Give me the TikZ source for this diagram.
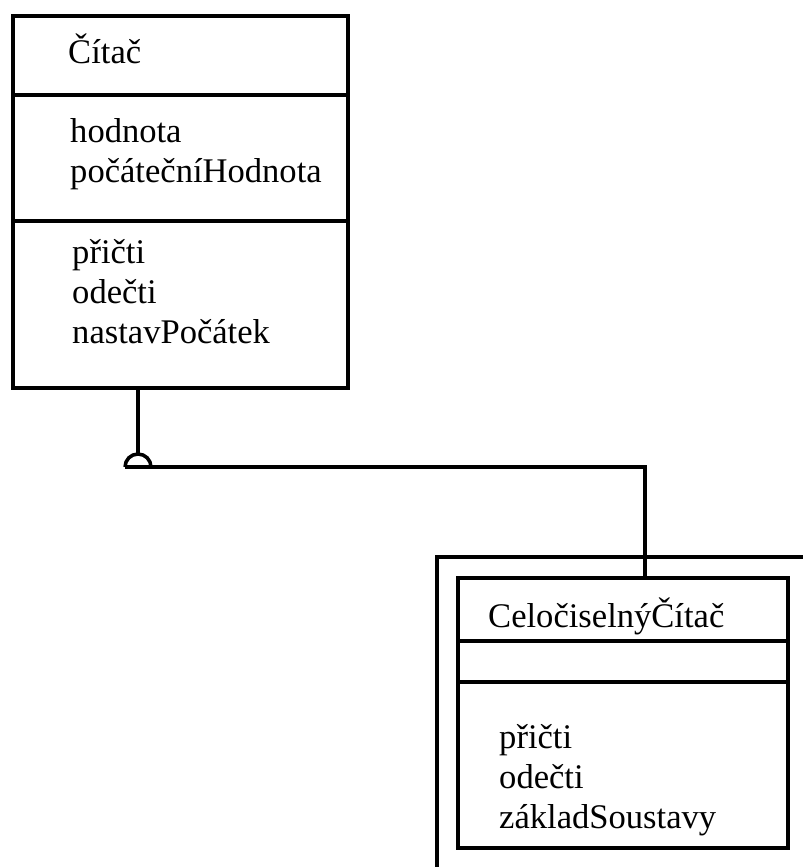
\documentclass[tikz,border=0pt]{standalone}
\usepackage{fontspec}
\setmainfont{Liberation Serif}
\usetikzlibrary{positioning,calc}
\tikzset{
    cls/.style={draw,line width=4.2pt,outer sep=0pt,inner sep=0pt,minimum width=#1},
    lbl/.style={anchor=base west,inner sep=0pt,font=\fontsize{29.5}{34}\selectfont},
    wire/.style={line width=3pt},
    frame/.style={line width=3pt}
}
\begin{document}
\begin{tikzpicture}[x=0.03cm,y=-0.03cm]
        \useasboundingbox (0,0) rectangle (803,867);
        \node[cls=10.05cm,minimum height=2.37cm,anchor=north west] (citacName) at (13,16) {};
        \node[cls=10.05cm,minimum height=3.78cm,below=0pt of citacName] (citacAttr) {};
        \node[cls=10.05cm,minimum height=5.01cm,below=0pt of citacAttr] (citacOps) {};
        \node[lbl] (citacT) at ($(citacName.north west)+(55,47)$) {Čítač};
        \foreach \t [count=\i] in {hodnota,počátečníHodnota}{
            \node[lbl] (citacA\i) at ($(citacAttr.north west)+(57,7+40*\i)$) {\t};
        }
        \foreach \t [count=\i] in {přičti,odečti,nastavPočátek}{
            \node[lbl] (citacO\i) at ($(citacOps.north west)+(59,2+40*\i)$) {\t};
        }
        \draw[frame] (437,867) |- (803,557);
        \node[cls=9.9cm,minimum height=1.89cm,anchor=north west] (subName) at (458,578) {};
        \node[cls=9.9cm,minimum height=1.23cm,below=0pt of subName] (subAttr) {};
        \node[cls=9.9cm,minimum height=4.98cm,below=0pt of subAttr] (subOps) {};
        \node[lbl] (subT) at ($(subName.north west)+(30,49)$) {CeločiselnýČítač};
        \foreach \t [count=\i] in {přičti,odečti,základSoustavy}{
            \node[lbl] (subO\i) at ($(subOps.north west)+(41,26+40*\i)$) {\t};
        }
        \coordinate (joint) at (138,467);
        \coordinate (bend) at (645,467);
        \draw[wire] (citacOps.south -| joint) -- ($(joint)+(0,-13)$);
        \draw[wire] ($(joint)+(-13,0)$) arc[start angle=180,end angle=0,radius=0.39cm];
        \draw[wire] ($(joint)+(-13,0)$) -- (bend) -- (bend |- subName.north);
    \end{tikzpicture}
\end{document}
